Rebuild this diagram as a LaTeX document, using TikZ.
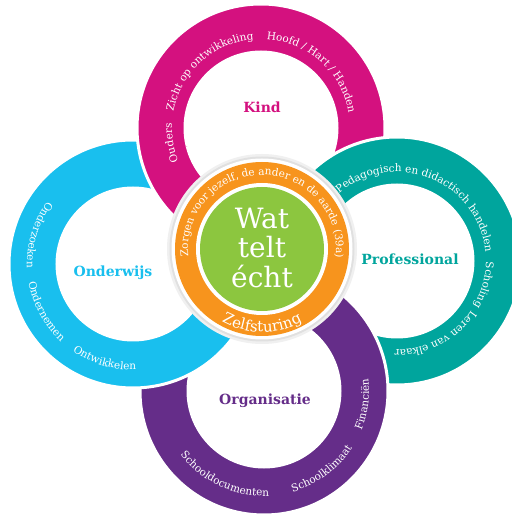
\documentclass[tikz,border=0pt]{standalone}
\usepackage{fontspec}
\setmainfont{DejaVu Serif}
\usepackage{xcolor}
\usepackage{tikz}
\usetikzlibrary{decorations.text}
\definecolor{kindpink}{HTML}{D4117F}
\definecolor{profteal}{HTML}{00A59D}
\definecolor{orgpurple}{HTML}{652D89}
\definecolor{owcyan}{HTML}{19BFEE}
\definecolor{zorgorange}{HTML}{F7941D}
\definecolor{telgreen}{HTML}{8CC63F}
\newcommand{\ringfont}{\fontsize{10.5}{12}\selectfont}
\tikzset{
  ringdisk/.style={fill=#1,draw=white,line width=3pt},
  ringhole/.style={fill=white,draw=white,line width=3pt},
  ringlabel/.style={font=\fontsize{14}{16}\selectfont\bfseries,anchor=base,inner sep=0pt},
  ringtext/.style={decorate,decoration={text along path,text align=center,text color=white,text={|\ringfont|#1}}}
}

\begin{document}
\begin{tikzpicture}[x=1pt,y=1pt]
  \useasboundingbox (0,0) rectangle (512,515);
  \clip (0,0) rectangle (512,515);
  % centres (1 unit = 1 px of the sheet)
  \coordinate (mc) at (262,266);
  \coordinate (kd) at (261,387);
  \coordinate (pf) at (397,254);
  \coordinate (og) at (264,124);
  \coordinate (ow) at (133,251);
  % four rings, each one over the next
  \filldraw[ringdisk=kindpink]  (kd) circle (124); \filldraw[ringhole] (kd) circle (76);
  \filldraw[ringdisk=profteal]  (pf) circle (124); \filldraw[ringhole] (pf) circle (76);
  \filldraw[ringdisk=orgpurple] (og) circle (124); \filldraw[ringhole] (og) circle (76);
  \filldraw[ringdisk=owcyan]    (ow) circle (124); \filldraw[ringhole] (ow) circle (76);
  % Kind once more, over Onderwijs
  \begin{scope}
    \clip (ow) circle (129);
    \fill[white] (kd) circle (77.5);
    \filldraw[ringdisk=kindpink,even odd rule] (kd) circle (124) (kd) circle (76);
  \end{scope}
  % centre disc
  \fill[black!6]  (mc) circle (95);
  \fill[black!12] (mc) circle (92.5);
  \fill[white]    (mc) circle (90.5);
  \fill[zorgorange] (mc) circle (87);
  \fill[white]    (mc) circle (66);
  \fill[telgreen] (mc) circle (62);
  \node[font=\fontsize{28}{29.5}\selectfont,white,align=center,inner sep=0pt] (wat) at (262,267.5) {Wat\\telt\\écht};
  % texts on the centre ring
  \path[ringtext={Zorgen voor jezelf, de ander en de aarde (39a)}] (mc) ++(205:74) arc[start angle=205,end angle=-26,radius=74];
  \path[decorate,decoration={text along path,text align=center,text color=white,text={|\fontsize{15}{17}\selectfont|Zelfsturing}}] (mc) ++(225:83) arc[start angle=225,end angle=315,radius=83];
  % Kind
  \node[ringlabel,kindpink] (kind) at (262,402) {Kind};
  \path[ringtext={Ouders}] (kd) ++(210:89) arc[start angle=210,end angle=169,radius=89];
  \path[ringtext={Zicht op ontwikkeling}] (kd) ++(182:89) arc[start angle=182,end angle=82,radius=89];
  \path[ringtext={Hoofd / Hart / Handen}] (kd) ++(98:89) arc[start angle=98,end angle=-2,radius=89];
  % Professional
  \node[ringlabel,profteal] (prof) at (410,250) {Professional};
  \path[ringtext={Pedagogisch en didactisch handelen}] (pf) ++(145:89) arc[start angle=145,end angle=-9,radius=89];
  \path[ringtext={Scholing}] (pf) ++(7:89) arc[start angle=7,end angle=-38,radius=89];
  \path[ringtext={Leren van elkaar}] (pf) ++(-28:89) arc[start angle=-28,end angle=-97,radius=89];
  % Onderwijs
  \node[ringlabel,owcyan] (onderw) at (113,238) {Onderwijs};
  \path[ringtext={Onderzoeken}] (ow) ++(135:106) arc[start angle=135,end angle=191,radius=106];
  \path[ringtext={Ondernemen}] (ow) ++(190:106) arc[start angle=190,end angle=227,radius=106];
  \path[ringtext={Ontwikkelen}] (ow) ++(226:106) arc[start angle=226,end angle=281,radius=106];
  % Organisatie
  \node[ringlabel,orgpurple] (organ) at (265,110) {Organisatie};
  \path[ringtext={Schooldocumenten}] (og) ++(205:105) arc[start angle=205,end angle=285,radius=105];
  \path[ringtext={Schoolklimaat}] (og) ++(276:105) arc[start angle=276,end angle=337,radius=105];
  \path[ringtext={Financiën}] (og) ++(330:105) arc[start angle=330,end angle=375,radius=105];
\end{tikzpicture}
\end{document}
